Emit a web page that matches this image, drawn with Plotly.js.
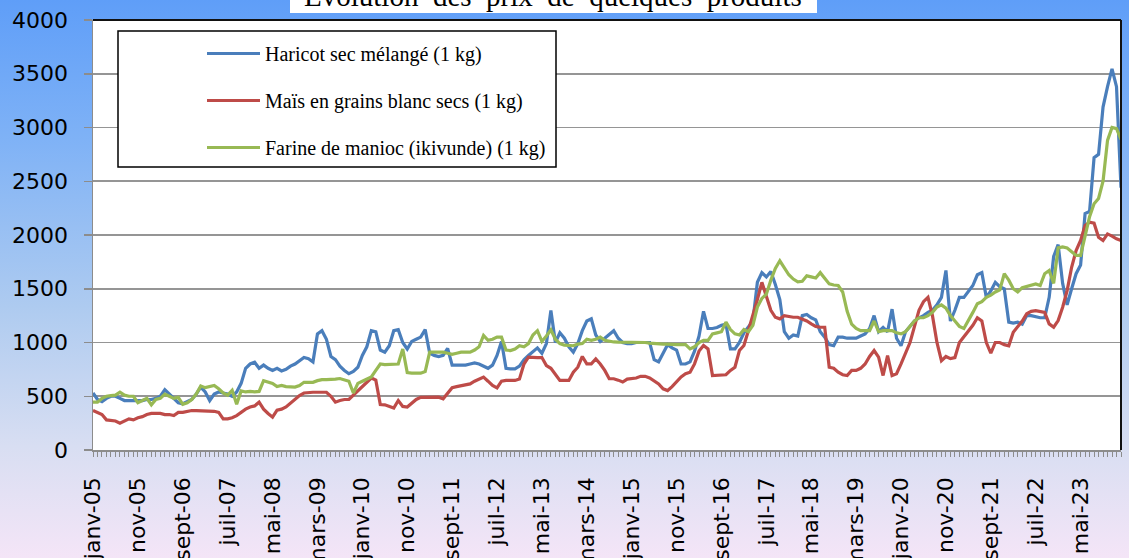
<!DOCTYPE html>
<html>
<head>
<meta charset="utf-8">
<script src="https://cdn.plot.ly/plotly-3.0.1.min.js"></script>
<style>
  html, body { margin: 0; padding: 0; }
  #chart {
    width: 1129px; height: 558px;
    background: linear-gradient(to bottom, #5f9ef8 0%, #7fb2f6 25%, #aecbf0 55%, #d8def2 80%, #f4e5f7 100%);
  }
</style>
</head>
<body>
<div id="chart"></div>
<script>
// ---- data ----
const monthNames = ['janv','févr','mars','avr','mai','juin','juil','août','sept','oct','nov','déc'];
const startYear = 2005;
const nMonths = 230;

const chartTitle = 'Evolution  des  prix  de  quelques  produits';

const tickLabels = ["janv-05","nov-05","sept-06","juil-07","mai-08","mars-09","janv-10","nov-10","sept-11","juil-12","mai-13","mars-14","janv-15","nov-15","sept-16","juil-17","mai-18","mars-19","janv-20","nov-20","sept-21","juil-22","mai-23"];

const seriesNames = ["Haricot sec mélangé (1 kg)", "Maïs en grains blanc secs (1 kg)", "Farine de manioc (ikivunde) (1 kg)"];

const haricot = [
 530,470,450,480,500,500,480,460,460,460,
 460,460,470,470,480,500,560,520,470,440,
 430,450,470,520,585,540,460,520,540,530,
 520,500,540,620,760,800,816,760,790,760,
 740,760,735,750,780,800,830,860,850,820,
 1080,1110,1030,870,840,780,740,710,730,770,
 880,960,1110,1100,930,910,970,1110,1120,1000,
 940,1010,1030,1050,1120,900,880,870,880,945,
 790,790,790,790,800,810,800,780,760,790,
 880,1010,760,755,755,780,840,880,920,950,
 900,990,1297,1000,1090,1040,960,910,990,1110,
 1200,1220,1070,1010,1040,1080,1110,1040,1000,990,
 990,1000,1000,1000,1000,840,820,900,980,950,
 930,800,800,820,920,1060,1290,1130,1130,1140,
 1160,1170,940,940,1000,1090,1150,1200,1560,1650,
 1610,1660,1540,1400,1100,1040,1070,1060,1250,1260,
 1230,1210,1100,1050,980,970,1050,1050,1040,1040,
 1040,1060,1080,1130,1250,1100,1140,1100,1310,1040,
 970,1100,1150,1200,1230,1250,1280,1300,1350,1420,
 1670,1200,1300,1420,1420,1480,1530,1630,1650,1420,
 1480,1560,1520,1500,1190,1180,1190,1170,1250,1250,
 1240,1230,1230,1420,1800,1910,1550,1350,1500,1640,
 1720,2200,2220,2720,2750,3190,3380,3545,3380,2440
];

const mais = [
 367,350,330,280,275,270,250,270,290,280,
 300,310,330,340,340,340,330,330,320,350,
 350,360,367,367,367,367,367,360,350,290,
 290,300,320,350,380,400,410,445,380,340,
 305,370,380,400,435,470,507,530,537,537,
 537,537,537,500,445,460,470,470,510,540,
 580,620,670,650,423,420,405,390,460,405,
 400,440,470,490,491,491,491,491,476,530,
 580,590,600,605,615,640,660,678,640,600,
 578,640,647,647,647,660,800,863,865,860,
 860,786,760,700,647,647,647,724,770,870,
 801,801,847,800,740,663,663,650,632,660,
 663,670,685,685,670,640,615,569,553,590,
 632,680,709,724,801,920,972,940,693,693,
 693,700,740,770,925,972,1111,1250,1400,1560,
 1420,1300,1235,1220,1250,1240,1235,1235,1220,1200,
 1173,1150,1142,1142,770,760,724,700,693,740,
 740,760,800,870,925,863,693,878,693,709,
 801,900,1000,1150,1300,1380,1420,1250,1000,830,
 870,850,860,1000,1050,1100,1160,1230,1200,1000,
 900,1000,1000,980,970,1096,1150,1200,1267,1290,
 1297,1290,1280,1173,1142,1204,1328,1483,1700,1855,
 1950,2088,2119,2110,1979,1948,2010,1990,1964,1950
];

const farine = [
 445,445,480,500,505,510,537,510,500,500,
 440,460,480,420,470,480,520,500,480,490,
 425,440,470,520,595,580,590,600,570,530,
 510,555,425,550,540,545,540,545,645,630,
 620,590,600,590,585,585,600,630,630,630,
 645,655,655,655,660,665,650,640,530,620,
 640,660,680,740,800,795,795,795,800,940,
 720,715,715,715,730,910,910,910,910,900,
 890,900,910,910,910,930,960,1065,1020,1030,
 1050,1050,930,925,940,970,960,990,1070,1110,
 1010,1060,1117,1030,990,975,970,970,985,990,
 1030,1020,1030,1050,1020,1010,1005,1003,1003,1003,
 1000,1000,1000,1000,995,990,990,985,985,980,
 980,980,980,940,960,1000,1020,1020,1080,1090,
 1100,1190,1120,1080,1070,1120,1100,1160,1330,1410,
 1450,1580,1690,1760,1690,1630,1590,1565,1570,1620,
 1610,1600,1650,1600,1545,1535,1530,1470,1290,1170,
 1130,1110,1110,1110,1200,1100,1110,1110,1110,1090,
 1080,1100,1150,1200,1230,1230,1250,1280,1330,1350,
 1320,1250,1200,1150,1130,1200,1280,1360,1380,1420,
 1440,1470,1490,1640,1580,1500,1470,1510,1520,1530,
 1545,1530,1640,1670,1550,1880,1890,1880,1840,1810,
 1810,1980,2170,2290,2340,2500,2880,3000,2990,2890
];

// ---- build categories ----
const months = [];
for (let i = 0; i < nMonths; i++) {
  const m = i % 12, y = startYear + Math.floor(i / 12);
  months.push(monthNames[m] + '-' + String(y % 100).padStart(2, '0'));
}
const xIdx = months.map((_, i) => i);
const tickVals = tickLabels.map(l => months.indexOf(l));

const colors = ['#4A7EBB', '#BE4B48', '#98B954'];
const values = [haricot, mais, farine];

const traces = values.map((v, k) => ({
  type: 'scatter', mode: 'lines',
  x: xIdx, y: v, text: months,
  name: seriesNames[k],
  legendgroup: 'g' + k,
  line: { color: colors[k], width: 3.2 },
  hovertemplate: '%{text}: %{y}<extra></extra>'
}));

const L = 93, R = 8, T = 20, B = 108;
const W = 1129, H = 558;
const pw = W - L - R, ph = H - T - B;
const px = x => (x - L) / pw;
const py = y => 1 - (y - T) / ph;

const layout = {
  width: W, height: H,
  margin: { l: L, r: R, t: T, b: B },
  paper_bgcolor: 'rgba(0,0,0,0)',
  plot_bgcolor: '#ffffff',
  showlegend: true,
  xaxis: {
    range: [0, nMonths - 1],
    tickmode: 'array', tickvals: tickVals, ticktext: tickLabels,
    tickangle: -90,
    ticks: 'outside', ticklen: 5, tickcolor: '#8c8c8c', tickwidth: 1,
    minor: { ticks: 'outside', dtick: 1, tick0: 0, ticklen: 5, tickcolor: '#8c8c8c', tickwidth: 1, showgrid: false },
    showgrid: false, zeroline: false,
    showline: true, linecolor: '#8c8c8c', linewidth: 1.5,
    tickfont: { family: 'DejaVu Sans, Arial, sans-serif', size: 22, color: '#000' },
    ticklabelstandoff: 12,
    fixedrange: true
  },
  yaxis: {
    range: [0, 4000], dtick: 500, tick0: 0,
    ticks: 'outside', ticklen: 8, tickcolor: '#8c8c8c', tickwidth: 1.5,
    showgrid: true, gridcolor: '#959595', gridwidth: 1.8,
    zeroline: false,
    showline: true, linecolor: '#8c8c8c', linewidth: 1.5,
    tickfont: { family: 'DejaVu Sans, Arial, sans-serif', size: 22, color: '#000' },
    ticklabelstandoff: 11,
    fixedrange: true
  },
  legend: {
    x: px(202), y: py(34), xanchor: 'left', yanchor: 'top',
    bgcolor: 'rgba(0,0,0,0)', borderwidth: 0,
    font: { family: 'Liberation Serif, Times New Roman, serif', size: 20, color: '#000' },
    tracegroupgap: 18,
    itemwidth: 53
  },
  annotations: [
    { text: chartTitle, xref: 'paper', yref: 'paper', x: px(553), y: py(-4),
      xanchor: 'center', yanchor: 'middle', showarrow: false,
      font: { family: 'Liberation Serif, Times New Roman, serif', size: 29, color: '#000' } }
  ],
  shapes: [
    { type: 'rect', xref: 'paper', yref: 'paper', x0: px(290), x1: px(817), y0: py(-30), y1: py(13),
      fillcolor: '#ffffff', line: { width: 0 }, layer: 'above' },
    { type: 'rect', xref: 'paper', yref: 'paper', x0: px(118), x1: px(556), y0: py(167), y1: py(31),
      fillcolor: '#ffffff', line: { color: '#000', width: 1.5 }, layer: 'above' },
    { type: 'line', xref: 'paper', yref: 'paper', x0: 0, x1: 1, y0: 1, y1: 1, line: { color: '#111', width: 2 }, layer: 'above' },
    { type: 'line', xref: 'paper', yref: 'paper', x0: 1, x1: 1, y0: 0, y1: 1, line: { color: '#111', width: 2 }, layer: 'above' }
  ]
};

Plotly.newPlot('chart', traces, layout, { displayModeBar: false, staticPlot: true });
</script>
</body>
</html>
